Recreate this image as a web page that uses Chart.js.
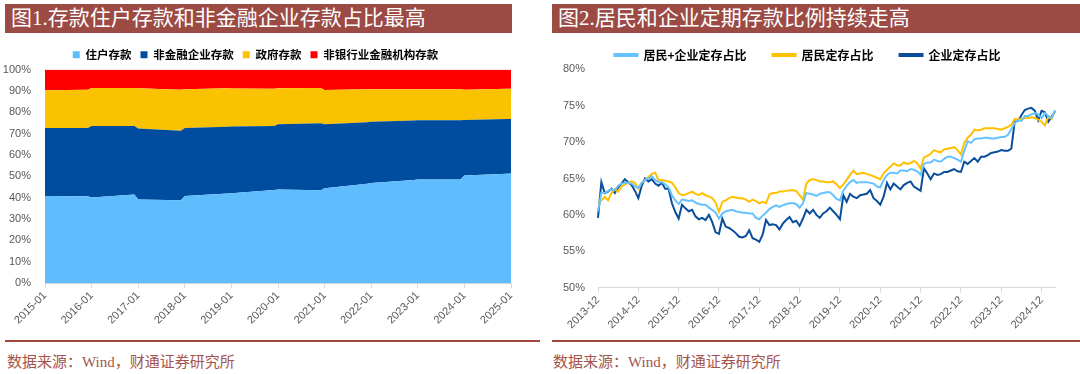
<!DOCTYPE html>
<html>
<head>
<meta charset="utf-8">
<script src="https://cdn.jsdelivr.net/npm/chart.js@4.4.1/dist/chart.umd.min.js"></script>
<style>
body{margin:0;width:1080px;height:374px;background:#fff;position:relative;overflow:hidden}
.title{position:absolute;top:4px;height:29px;background:#9b4a44;color:#fff;font-size:21px;line-height:29px;padding-left:6px;box-sizing:border-box;font-family:"Liberation Serif","Noto Sans CJK SC",serif;white-space:nowrap}
.box{position:absolute;top:40px;width:540px;height:300px}
.rule{position:absolute;top:340px;height:1.5px;background:#a0463e}
.src{position:absolute;top:350px;font-size:15px;color:#a5544b;font-family:"Liberation Serif","Noto Sans CJK SC",serif;white-space:nowrap}
</style>
</head>
<body>
<div class="title" style="left:5px;width:507px">图1.存款住户存款和非金融企业存款占比最高</div>
<div class="title" style="left:552px;width:528px">图2.居民和企业定期存款比例持续走高</div>
<div class="box" style="left:0"><canvas id="depShare" width="540" height="300"></canvas></div>
<div class="box" style="left:540px"><canvas id="termShare" width="540" height="300"></canvas></div>
<div class="rule" style="left:5px;width:535px"></div>
<div class="rule" style="left:552px;width:528px"></div>
<div class="src" style="left:7px">数据来源：Wind，财通证券研究所</div>
<div class="src" style="left:553px">数据来源：Wind，财通证券研究所</div>
<script>
// 图1：存款结构（月份序号，0 = 2015-01），单位 %
const depMonths = [0, 11, 12, 23, 24, 35, 36, 47, 48, 59, 60, 71, 72, 83, 84, 95, 96, 107, 108, 119, 120];
const householdShare = [40.7, 40.6, 40.0, 41.4, 39.1, 38.8, 40.7, 41.9, 42.0, 43.6, 43.8, 43.5, 44.4, 46.5, 46.8, 48.3, 48.5, 48.5, 50.4, 51.2, 51.3];
const corporateShare = [31.9, 32.0, 33.5, 32.1, 33.3, 32.5, 31.9, 31.3, 31.3, 29.9, 30.6, 31.3, 30.0, 28.8, 28.7, 27.8, 27.7, 27.7, 25.9, 25.6, 25.5];
const governmentShare = [17.7, 17.9, 17.8, 17.8, 18.8, 19.2, 18.2, 18.0, 17.8, 17.5, 16.8, 16.5, 16.0, 15.4, 15.2, 14.7, 14.6, 14.6, 14.2, 14.2, 14.2];
const nonbankShare = [9.7, 9.5, 8.7, 8.7, 8.8, 9.5, 9.2, 8.8, 8.9, 9.0, 8.8, 8.7, 9.6, 9.3, 9.3, 9.2, 9.2, 9.2, 9.5, 9.0, 9.0];

// 图2：定期存款占比，月度，2013-12 起，单位 %
const termTotal = [
  60.5, 63.0, 63.0, 63.3, 63.5, 63.4, 64.0, 64.3, 64.4, 64.4, 64.3, 63.9,
  63.7, 64.4, 64.8, 65.0, 65.3, 64.8, 64.5, 64.5, 64.2, 63.8, 62.7, 62.0,
  61.5, 62.1, 62.0, 61.9, 62.0, 61.7, 61.5, 61.4, 61.4, 61.0, 60.7, 60.3,
  59.5, 60.2, 60.5, 60.6, 60.7, 60.5, 60.4, 60.3, 60.3, 60.2, 60.2, 59.6,
  59.4, 59.9, 60.3, 60.8, 61.1, 61.3, 61.1, 61.3, 61.5, 61.6, 61.6, 61.5,
  61.0, 61.6, 63.0, 62.9, 62.8, 62.6, 62.9, 63.0, 63.1, 63.1, 62.7, 62.2,
  62.0, 63.3, 64.0, 64.5, 64.8, 64.4, 64.5, 64.5, 64.5, 64.4, 64.3, 63.9,
  63.8, 64.8, 65.5, 65.8, 65.8, 65.7, 66.1, 66.1, 66.0, 66.3, 66.2, 66.0,
  65.5, 67.0, 67.2, 67.2, 67.6, 67.4, 67.3, 67.7, 68.0, 68.0, 67.8, 67.6,
  67.3, 68.8, 70.1, 69.9, 70.4, 70.5, 70.5, 70.6, 70.6, 70.5, 70.5, 70.6,
  70.7, 70.7, 71.0, 71.8, 72.6, 73.0, 72.9, 73.6, 73.6, 73.8, 74.0, 73.8,
  73.3, 74.0, 73.6, 73.3, 74.4
];
const termHousehold = [
  61.5, 62.0, 62.5, 62.0, 63.0, 63.5, 63.2, 63.9, 64.2, 64.4, 64.6, 64.4,
  63.6, 64.4, 64.8, 65.2, 65.6, 65.8, 64.8, 64.8, 64.7, 64.6, 64.4, 63.8,
  63.0, 62.7, 62.8, 63.0, 63.2, 62.9, 62.7, 63.0, 62.7, 62.5, 62.3, 61.7,
  60.4, 61.8, 62.0, 62.3, 62.5, 62.4, 62.3, 62.3, 62.1, 61.8, 62.1, 61.9,
  61.6, 61.8, 61.6, 62.8, 63.0, 63.0, 63.2, 63.2, 63.3, 63.4, 63.4, 63.3,
  62.7, 62.1, 64.3, 64.8, 64.9, 64.8, 64.6, 64.6, 64.5, 64.5, 64.6, 64.2,
  63.7, 64.2, 64.8, 65.5, 66.1, 65.6, 65.7, 65.8, 65.6, 65.5, 65.3, 65.1,
  64.9, 65.7, 66.2, 66.6, 67.1, 66.8, 66.8, 67.2, 67.0, 67.1, 67.4, 67.1,
  66.4, 67.9, 68.1, 68.4, 68.9, 68.7, 68.6, 69.0, 69.1, 69.2, 69.3, 68.9,
  68.3, 69.9, 70.6, 71.0, 71.7, 71.6, 71.7, 71.9, 71.9, 71.9, 71.9, 71.8,
  71.7, 71.9, 72.1, 72.4, 73.2, 73.1, 73.2, 73.3, 73.3, 73.4, 73.3, 73.1,
  72.8, 72.3, 73.5, 73.2, 74.3
];
const termCorporate = [
  59.6, 64.5, 63.0, 63.2, 63.6, 63.0, 63.8, 64.3, 64.9, 64.5, 64.1, 63.3,
  62.3, 64.0, 65.0, 64.6, 64.9, 64.3, 64.0, 64.4, 63.6, 63.6, 61.6, 60.4,
  59.5, 61.4, 60.9, 60.5, 60.7, 59.8, 59.4, 59.6, 59.3, 60.0, 59.0, 57.6,
  57.4, 59.5, 58.4, 58.2, 57.9, 57.5, 57.0, 56.9, 57.1, 57.9, 56.8, 56.6,
  56.3, 57.3, 59.3, 58.6, 58.7, 58.6, 58.0, 58.8, 59.3, 59.7, 59.0, 59.2,
  58.5, 59.5, 60.7, 60.2, 60.7, 60.0, 59.6, 60.2, 60.5, 61.0, 60.5, 60.0,
  59.4, 62.7, 61.8, 62.9, 62.5, 62.3, 62.7, 62.8, 62.9, 63.4, 62.3, 61.9,
  61.4, 62.5, 64.4, 63.5, 64.3, 63.9, 63.5, 64.1, 64.4, 64.6, 63.9, 63.6,
  63.3, 66.4, 65.7, 64.9, 65.7, 65.5, 65.6, 65.9, 65.9, 66.1, 66.3, 66.0,
  65.9, 67.3, 67.0, 67.4, 67.8, 67.3, 68.0, 68.0, 68.2, 68.5, 68.6, 68.7,
  68.9, 68.8, 68.8, 69.1, 72.8, 72.9, 73.7, 74.4, 74.6, 74.7, 74.3, 73.0,
  74.3, 74.1, 72.8, 73.5, 74.2
];

const termLabels = [];
for (let i = 0; i < termTotal.length; i++) {
  const yr = 2013 + Math.floor((11 + i) / 12);
  const mo = (11 + i) % 12 + 1;
  termLabels.push(yr + '-' + String(mo).padStart(2, '0'));
}

Chart.defaults.font.family = '"Liberation Sans", Arial, sans-serif';
Chart.defaults.font.size = 11;
Chart.defaults.color = '#595959';
Chart.defaults.animation = false;

// fixes the legend block height; labels.padding also sets the row's top offset,
// so a wide item spacing is pulled back up by `lift` px (and nudged by `shift`)
const legendGap = (h, lift = 0, shift = 0) => ({
  id: 'legendGap',
  beforeInit(chart) {
    const fit = chart.legend.fit;
    chart.legend.fit = function () { fit.call(this); this.height = h; };
  },
  beforeDraw(chart) {
    if (!lift && !shift) return;
    const lg = chart.legend;
    lg.top = -lift;
    lg.bottom = h;
    lg.height = h + lift;
    lg.left += shift;
    lg.right += shift;
  }
});

const axisGrid = { display: true, drawOnChartArea: false, drawTicks: true, tickLength: 5, color: '#d9d9d9' };

const pts = arr => arr.map((v, i) => ({ x: depMonths[i], y: v }));
const area = (label, arr, color, fill) => ({
  label, data: pts(arr), backgroundColor: color, borderColor: color,
  borderWidth: 0, pointRadius: 0, fill
});

new Chart(document.getElementById('depShare'), {
  type: 'line',
  data: {
    datasets: [
      area('住户存款', householdShare, '#5fbdfd', 'origin'),
      area('非金融企业存款', corporateShare, '#004c9e', '-1'),
      area('政府存款', governmentShare, '#fac200', '-1'),
      area('非银行业金融机构存款', nonbankShare, '#ff0000', '-1')
    ]
  },
  options: {
    responsive: false,
    layout: { padding: { left: 0, right: 29, top: 0, bottom: 0 } },
    plugins: {
      legend: {
        labels: {
          boxWidth: 7, boxHeight: 7, padding: 9, color: '#000',
          font: { family: '"Noto Sans CJK SC", sans-serif', size: 11.5, weight: 'bold' }
        }
      },
      tooltip: { enabled: false }
    },
    scales: {
      x: {
        type: 'linear', min: 0, max: 120,
        grid: axisGrid, border: { color: '#d9d9d9' },
        ticks: {
          stepSize: 12, autoSkip: false, minRotation: 45, maxRotation: 45, padding: 1,
          callback: v => (2015 + v / 12) + '-01'
        },
        afterFit: s => { s.height = 57; }
      },
      y: {
        stacked: true, min: 0, max: 100,
        grid: { display: false }, border: { display: false },
        ticks: { stepSize: 10, padding: 6, callback: v => v + '%' },
        afterFit: s => { s.width = 45; }
      }
    }
  },
  plugins: [legendGap(29.5)]
});

const line = (label, arr, color) => ({
  label, data: arr, borderColor: color, backgroundColor: color,
  borderWidth: 2, pointRadius: 0, fill: false, tension: 0
});

new Chart(document.getElementById('termShare'), {
  type: 'line',
  data: {
    labels: termLabels,
    datasets: [
      line('居民+企业定存占比', termTotal, '#66c2ff'),
      line('居民定存占比', termHousehold, '#ffc000'),
      line('企业定存占比', termCorporate, '#0a4e9b')
    ]
  },
  options: {
    responsive: false,
    layout: { padding: { left: 0, right: 25, top: 0, bottom: 0 } },
    plugins: {
      legend: {
        labels: {
          boxWidth: 23, boxHeight: 2, padding: 26, color: '#000',
          font: { family: '"Noto Sans CJK SC", sans-serif', size: 12, weight: 'bold' }
        }
      },
      tooltip: { enabled: false }
    },
    scales: {
      x: {
        grid: axisGrid, border: { color: '#d9d9d9' },
        ticks: {
          autoSkip: false, minRotation: 45, maxRotation: 45, padding: 1,
          callback: function (v) {
            const lab = this.getLabelForValue(v);
            return lab.endsWith('-12') ? lab : null;
          }
        },
        afterFit: s => { s.height = 52.3; }
      },
      y: {
        min: 50, max: 80,
        grid: { display: false }, border: { display: false },
        ticks: { stepSize: 5, padding: 5, callback: v => v + '%' },
        afterFit: s => { s.width = 58; }
      }
    }
  },
  plugins: [legendGap(29.3, 17, 10)]
});
</script>
</body>
</html>
